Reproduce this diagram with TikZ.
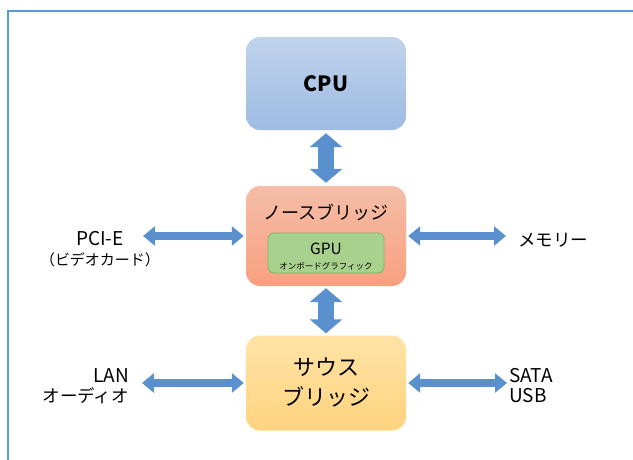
\documentclass[tikz,border=0pt]{standalone}
\usepackage{fontspec}
\setmainfont{Noto Sans CJK JP}
\usetikzlibrary{arrows.meta}
\definecolor{frameblue}{HTML}{5B9BD5}
\definecolor{arrowblue}{HTML}{5A90CD}
\definecolor{cputop}{HTML}{C0D3EC}
\definecolor{cpubot}{HTML}{9EBBE3}
\definecolor{nbtop}{HTML}{F5BEA8}
\definecolor{nbbot}{HTML}{F8A07F}
\definecolor{gpufill}{HTML}{A9D18E}
\definecolor{gpuline}{HTML}{7DB760}
\definecolor{sbtop}{HTML}{FFE3A6}
\definecolor{sbbot}{HTML}{FFD37E}
\newcommand{\latinsize}{\fontsize{19}{20}\selectfont}

\begin{document}
\begin{tikzpicture}[x=1pt,y=-1pt,
	box/.style={rounded corners=14pt, minimum width=160pt, align=center, inner sep=0pt},
	lbl/.style={font=\fontsize{17.5}{20}\selectfont, inner sep=0pt},
	varrow/.style={line width=16pt, draw=arrowblue,
		{Triangle[width=32pt,length=14pt]}-{Triangle[width=32pt,length=14pt]}},
	harrow/.style={line width=8pt, draw=arrowblue,
		{Triangle[width=19pt,length=12pt]}-{Triangle[width=19pt,length=12pt]}}]
	\useasboundingbox (0,0) rectangle (633,459);
	\draw [frameblue, line width=2.5pt] (8,470) -- (8,11) -- (640,11);
	% chips
	\node [box, minimum height=93pt, top color=cputop, bottom color=cpubot,
		font=\bfseries\fontsize{21}{24}\selectfont] (cpu) at (326,83.5) {CPU};
	\node [box, minimum height=100pt, top color=nbtop, bottom color=nbbot] (nb) at (326,236) {};
	\node [font=\fontsize{18}{22}\selectfont] (nbname) at (326,212) {ノースブリッジ};
	\node [rounded corners=6pt, minimum width=116pt, minimum height=40pt,
		fill=gpufill, draw=gpuline, line width=0.8pt] (gpu) at (326,253) {};
	\node [font=\fontsize{15.5}{18}\selectfont] (gpuname) at (326,249) {GPU};
	\node [font=\fontsize{8.5}{10}\selectfont, inner sep=0pt] (gpusub) at (326,266) {オンボードグラフィック};
	\node [box, minimum height=95pt, top color=sbtop, bottom color=sbbot,
		font=\fontsize{22}{30}\selectfont] (sb) at (326,383) {サウス\\ブリッジ};
	% labels
	\node [lbl, align=center] (pcie) at (100,249) {{\latinsize PCI-E}\\{\fontsize{15}{18}\selectfont （ビデオカード）}};
	\node [lbl, anchor=west] (mem) at (518,240) {メモリー};
	\node [lbl, align=right, anchor=east] (lan) at (129,386) {{\latinsize LAN}\\オーディオ};
	\node [lbl, align=left, anchor=west, font=\latinsize] (sata) at (509,386) {SATA\\USB};
	\coordinate (pcieend) at (143,236);
	\coordinate (memend) at (506,236);
	\coordinate (lanend) at (142,383);
	\coordinate (sataend) at (507,383);
	% buses
	\draw [varrow, shorten <=3pt, shorten >=3pt] (cpu) -- (nb);
	\draw [varrow, shorten <=2pt, shorten >=2pt] (nb) -- (sb);
	\draw [harrow, shorten >=2pt] (pcieend) -- (pcieend -| nb.west);
	\draw [harrow, shorten >=2pt] (memend) -- (memend -| nb.east);
	\draw [harrow, shorten >=2pt] (lanend) -- (lanend -| sb.west);
	\draw [harrow, shorten >=2pt] (sataend) -- (sataend -| sb.east);
\end{tikzpicture}
\end{document}
